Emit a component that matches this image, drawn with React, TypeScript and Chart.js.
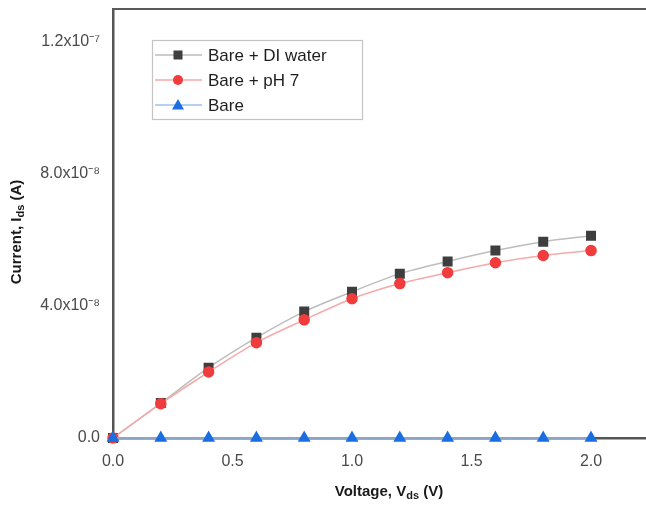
import React, { useEffect, useRef } from "react";
import { Chart, registerables } from "chart.js";

Chart.register(...registerables);

const voltages = [0, 0.2, 0.4, 0.6, 0.8, 1.0, 1.2, 1.4, 1.6, 1.8, 2.0];
const diWater = [0, 1.06e-8, 2.13e-8, 3.04e-8, 3.83e-8, 4.43e-8, 4.98e-8, 5.35e-8, 5.68e-8, 5.95e-8, 6.13e-8];
const ph7 = [0, 1.04e-8, 2.0e-8, 2.89e-8, 3.58e-8, 4.22e-8, 4.68e-8, 5.01e-8, 5.31e-8, 5.53e-8, 5.68e-8];
const bare = [0, 0, 0, 0, 0, 0, 0, 0, 0, 0, 0];

const xTicks = [0, 0.5, 1.0, 1.5, 2.0];
const xTickLabels = ["0.0", "0.5", "1.0", "1.5", "2.0"];
const yTicks = [0, 4e-8, 8e-8, 1.2e-7];
const yTickLabels = ["0.0", "4.0x10\u207B\u2078", "8.0x10\u207B\u2078", "1.2x10\u207B\u2077"];

const seriesNames = ["Bare + DI water", "Bare + pH 7", "Bare"];

const FONT = "'Liberation Sans', Arial, sans-serif";

type Seg = { t: string; sub?: boolean };

function drawRich(ctx: CanvasRenderingContext2D, segs: Seg[], cx: number, cy: number, rot: number) {
  const main = `bold 15px ${FONT}`;
  const sub = `bold 11px ${FONT}`;
  let total = 0;
  const widths = segs.map((s) => {
    ctx.font = s.sub ? sub : main;
    const w = ctx.measureText(s.t).width;
    total += w;
    return w;
  });
  ctx.save();
  ctx.translate(cx, cy);
  ctx.rotate(rot);
  ctx.fillStyle = "#1a1a1a";
  ctx.textBaseline = "middle";
  ctx.textAlign = "left";
  let x = -total / 2;
  segs.forEach((s, i) => {
    ctx.font = s.sub ? sub : main;
    ctx.fillText(s.t, x, s.sub ? 4 : 0);
    x += widths[i];
  });
  ctx.restore();
}

const decorPlugin = {
  id: "decor",
  afterDraw(chart: any) {
    const ctx: CanvasRenderingContext2D = chart.ctx;
    const a = chart.chartArea;
    // top frame
    ctx.save();
    ctx.strokeStyle = "#5a5a5a";
    ctx.lineWidth = 2;
    ctx.beginPath();
    ctx.moveTo(a.left - 1, a.top);
    ctx.lineTo(a.right, a.top);
    ctx.stroke();
    ctx.restore();

    drawRich(ctx, [{ t: "Voltage, V" }, { t: "ds", sub: true }, { t: " (V)" }], 389, 492, 0);
    drawRich(ctx, [{ t: "Current, I" }, { t: "ds", sub: true }, { t: " (A)" }], 17, 232, -Math.PI / 2);

    // legend
    const lx = 152, ly = 40, lw = 210, lh = 79;
    ctx.save();
    ctx.fillStyle = "#ffffff";
    ctx.fillRect(lx, ly, lw, lh);
    ctx.strokeStyle = "#c4c4c4";
    ctx.lineWidth = 1.2;
    ctx.strokeRect(lx + 0.5, ly + 0.5, lw, lh);
    const ds = chart.data.datasets;
    const order = [2, 1, 0];
    order.forEach((di, i) => {
      const d = ds[di];
      const y = 55 + i * 25;
      ctx.strokeStyle = d.borderColor;
      ctx.lineWidth = 1.5;
      ctx.beginPath();
      ctx.moveTo(155, y);
      ctx.lineTo(202, y);
      ctx.stroke();
      ctx.fillStyle = d.pointBackgroundColor;
      if (d.pointStyle === "rect") {
        ctx.fillRect(178 - 4.5, y - 4.5, 9, 9);
      } else if (d.pointStyle === "circle") {
        ctx.beginPath();
        ctx.arc(178, y, 5, 0, Math.PI * 2);
        ctx.fill();
      } else {
        ctx.beginPath();
        ctx.moveTo(178, y - 6);
        ctx.lineTo(184, y + 4.5);
        ctx.lineTo(172, y + 4.5);
        ctx.closePath();
        ctx.fill();
      }
      ctx.fillStyle = "#1e1e1e";
      ctx.font = `17px ${FONT}`;
      ctx.textBaseline = "middle";
      ctx.textAlign = "left";
      ctx.fillText(d.label, 208, y + 1);
    });
    ctx.restore();
  },
};

const zeroPad = (s: any) => {
  s.paddingTop = 0;
  s.paddingBottom = 0;
  s.paddingLeft = 0;
  s.paddingRight = 0;
};

export default function App() {
  const ref = useRef<HTMLCanvasElement | null>(null);

  useEffect(() => {
    if (!ref.current) return;
    const mk = (vals: number[]) => voltages.map((x, i) => ({ x, y: vals[i] }));
    const chart = new Chart(ref.current, {
      type: "line",
      data: {
        datasets: [
          {
            label: seriesNames[2],
            data: mk(bare),
            borderColor: "#9dc1ee",
            backgroundColor: "#1a6ee0",
            pointBackgroundColor: "#1a6ee0",
            pointBorderColor: "#1a6ee0",
            pointStyle: "triangle",
            pointRadius: 6,
            borderWidth: 1.5,
            tension: 0.3,
            clip: false,
          },
          {
            label: seriesNames[1],
            data: mk(ph7),
            borderColor: "#f5a9a9",
            backgroundColor: "#f03c3c",
            pointBackgroundColor: "#f03c3c",
            pointBorderColor: "#f03c3c",
            pointStyle: "circle",
            pointRadius: 5,
            borderWidth: 1.5,
            tension: 0.3,
            clip: false,
          },
          {
            label: seriesNames[0],
            data: mk(diWater),
            borderColor: "#bdbdbd",
            backgroundColor: "#3e3e3e",
            pointBackgroundColor: "#3e3e3e",
            pointBorderColor: "#3e3e3e",
            pointStyle: "rect",
            pointRadius: 6,
            borderWidth: 1.5,
            tension: 0.3,
            clip: false,
          },
        ],
      },
      options: {
        animation: false,
        responsive: false,
        devicePixelRatio: 1,
        layout: { autoPadding: false, padding: { top: 9, right: 0, left: 0, bottom: 0 } },
        plugins: { legend: { display: false }, tooltip: { enabled: false } },
        scales: {
          x: {
            type: "linear",
            min: 0,
            max: 2.23,
            grid: { drawOnChartArea: false, drawTicks: false },
            border: { display: true, color: "#555555", width: 2.5 },
            ticks: {
              color: "#4a4a4a",
              font: { family: FONT, size: 16 },
              padding: 14,
              maxRotation: 0,
              callback: (v: any) => {
                const i = xTicks.findIndex((t) => Math.abs(t - v) < 1e-9);
                return i >= 0 ? xTickLabels[i] : "";
              },
            },
            afterBuildTicks: (s: any) => {
              s.ticks = xTicks.map((v) => ({ value: v }));
            },
            afterFit: (s: any) => {
              s.height = 69;
              zeroPad(s);
            },
          },
          y: {
            type: "linear",
            min: 0,
            max: 1.3e-7,
            grid: { drawOnChartArea: false, drawTicks: false },
            border: { display: true, color: "#555555", width: 2.5 },
            ticks: {
              color: "#4a4a4a",
              font: { family: FONT, size: 16 },
              padding: 13,
              callback: (v: any) => {
                const i = yTicks.findIndex((t) => Math.abs(t - v) < 1e-12);
                return i >= 0 ? yTickLabels[i] : "";
              },
            },
            afterBuildTicks: (s: any) => {
              s.ticks = yTicks.map((v) => ({ value: v }));
            },
            afterFit: (s: any) => {
              s.width = 113;
              zeroPad(s);
            },
          },
        },
      },
      plugins: [decorPlugin],
    } as any);
    return () => chart.destroy();
  }, []);

  return (
    <div style={{ position: "fixed", left: 0, top: 0, width: 646, height: 507, background: "#fff" }}>
      <canvas ref={ref} width={646} height={507} />
    </div>
  );
}
